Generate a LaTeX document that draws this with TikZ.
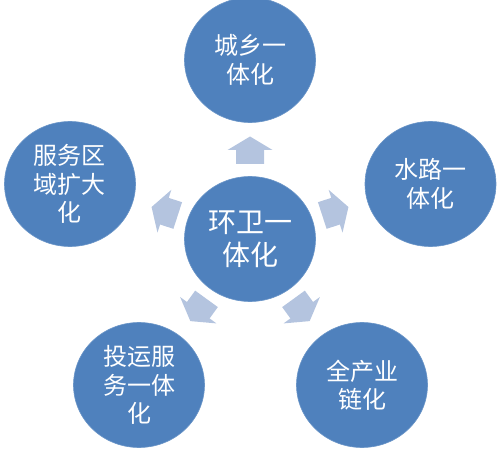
\documentclass[tikz,border=0pt]{standalone}
\usepackage{fontspec}
\newfontfamily\cjk{Noto Sans CJK SC}
\usetikzlibrary{shapes.geometric}
\definecolor{cblue}{RGB}{79,129,189}
\definecolor{alight}{RGB}{180,196,223}
\begin{document}
\begin{tikzpicture}[x=1pt,y=1pt,
  circ/.style={ellipse, fill=cblue, draw=cblue!85!white, line width=0.6pt,
    minimum width=131pt, minimum height=125pt, inner sep=0pt,
    text=white, align=center, font=\cjk\fontsize{24}{28.5}\selectfont},
  hub/.style={circ, font=\cjk\fontsize{28}{33}\selectfont},
  blockarrow/.pic={\fill[alight] (-13,-14) -- (1,-14) -- (1,-22.5) -- (14.5,0)
     -- (1,22.5) -- (1,14) -- (-13,14) -- cycle;}
]
\useasboundingbox (0,0) rectangle (501,448);
\node[hub]  (c)  at (250,209)   {环卫一\\体化};
\node[circ] (t)  at (250,388)   {城乡一\\体化};
\node[circ] (r)  at (430.5,264) {水路一\\体化};
\node[circ] (l)  at (70,264)    {服务区\\域扩大\\化};
\node[circ] (bl) at (139,63)    {投运服\\务一体\\化};
\node[circ] (br) at (362,63)    {全产业\\链化};
\path (c.center) ++(90:88)  pic[rotate=90]  {blockarrow};
\path (c.center) ++(18:89)  pic[rotate=18]  {blockarrow};
\path (c.center) ++(162:89) pic[rotate=162] {blockarrow};
\path (c.center) ++(234:87) pic[rotate=234] {blockarrow};
\path (c.center) ++(306:87) pic[rotate=306] {blockarrow};
\end{tikzpicture}
\end{document}
